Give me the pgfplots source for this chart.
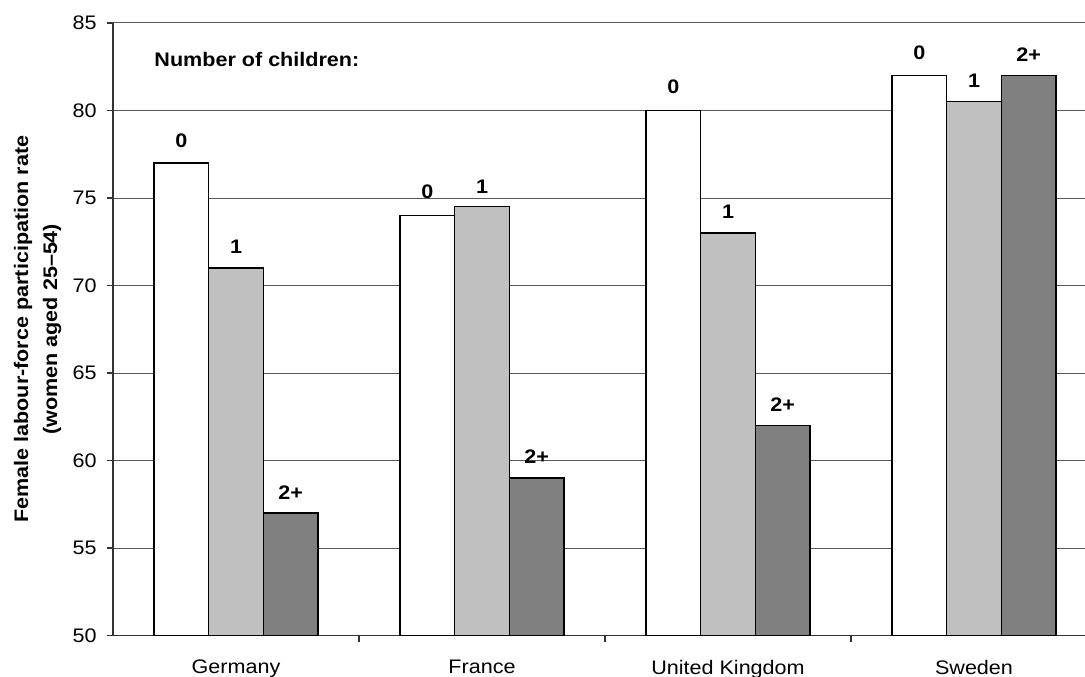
\documentclass[border=0pt]{standalone}
\usepackage{pgfplots}
\pgfplotsset{compat=1.18}
\usepackage{fontspec}
\setmainfont{Liberation Sans}[FakeStretch=1.1]
\definecolor{lgray}{RGB}{192,192,192}
\definecolor{dgray}{RGB}{128,128,128}
\begin{document}
\fontsize{9.8}{11.8}\selectfont
\begin{tikzpicture}
\begin{axis}[
  scale only axis,
  width=486pt, height=306.25pt,
  xmin=-0.5, xmax=3.4512,
  ymin=50, ymax=85,
  ytick={50,55,...,85},
  axis lines*=left,
  axis line style={black!80, line width=0.6pt},
  tick align=outside,
  major tick length=3pt,
  tick style={black!80, line width=0.6pt},
  ymajorgrids,
  grid style={black!65, line width=0.5pt},
  xtick={0.5,1.5,2.5},
  xticklabels={},
  extra x ticks={0,1,2,3},
  extra x tick labels={Germany,France,United Kingdom,Sweden},
  extra x tick style={major tick length=0pt, grid=none,
     xticklabel style={anchor=north, inner sep=0pt, yshift=-12pt}},
  yticklabel style={anchor=east, inner sep=0pt, xshift=-5pt},
  /pgf/number format/assume math mode=true,
  ylabel={Female labour-force participation rate\\(women aged 25--54)},
  every axis y label/.style={at={(axis description cs:-0.07767,0.5)}, rotate=90, anchor=center,
     align=center, font=\bfseries\fontsize{9.8}{14.5}\selectfont},
  clip=false,
]
\addplot[ybar, bar width=0.2222, bar shift=-0.2222, fill=white, draw=black, line width=0.6pt]
  coordinates {(0,77) (1,74) (2,80) (3,82)};
\addplot[ybar, bar width=0.2222, bar shift=0, fill=lgray, draw=black, line width=0.6pt]
  coordinates {(0,71) (1,74.5) (2,73) (3,80.5)};
\addplot[ybar, bar width=0.2222, bar shift=0.2222, fill=dgray, draw=black, line width=0.6pt]
  coordinates {(0,57) (1,59) (2,62) (3,82)};
% bar labels
\addplot[draw=none, mark=none, nodes near coords, point meta=explicit symbolic,
  nodes near coords style={anchor=center, inner sep=0pt, font=\bfseries, text=black}]
  coordinates {
   (-0.2222,78.26) [0] (0,72.2) [1] (0.2222,58.14) [2+]
   (0.7778,75.36) [0] (1,75.65) [1] (1.2222,60.2) [2+]
   (1.7778,81.33) [0] (2,74.2) [1] (2.2222,63.2) [2+]
   (2.7778,83.3) [0] (3,81.69) [1] (3.2222,83.2) [2+]
  };
\node[anchor=west, inner sep=0pt, font=\bfseries] at (axis cs:-0.333,82.9) {Number of children:};
\end{axis}
\pgfresetboundingbox
\path[use as bounding box] (-56.5pt,-20.25pt) rectangle (486pt,317.75pt);
\end{tikzpicture}
\end{document}
